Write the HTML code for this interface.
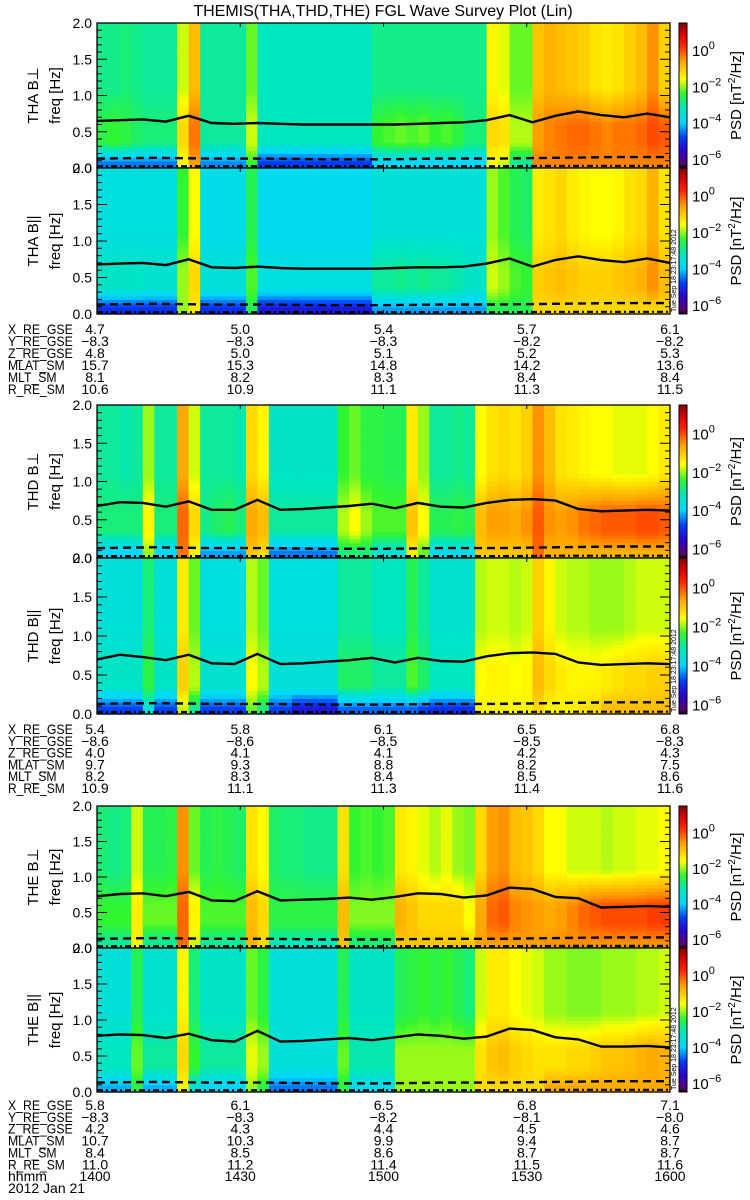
<!DOCTYPE html>
<html><head><meta charset="utf-8">
<style>
html,body{margin:0;padding:0;background:#fff;}
svg{display:block;font-family:"Liberation Sans",sans-serif;}
.t{font-size:14px;fill:#000;}
.ann{font-size:14px;fill:#000;}
</style></head>
<body>
<svg id="root" width="750" height="1200" viewBox="0 0 750 1200">
<text x="383" y="16" text-anchor="middle" style="font-size:16px">THEMIS(THA,THD,THE) FGL Wave Survey Plot (Lin)</text>
</svg>
<script>
// ---- data: log10 PSD per time bin (50 bins) for three frequency bands ----
const tha_perp_hi=[-2.9,-2.9,-2.8,-2.9,-3.0,-3.0,-3.0,-1.8,-0.9,-3.0,-3.0,-3.0,-3.0,-2.2,-3.2,-3.2,-3.2,-3.2,-3.2,-3.2,-3.2,-3.2,-3.2,-3.2,-2.9,-2.9,-2.9,-2.9,-2.9,-2.9,-2.9,-2.9,-2.9,-2.9,-1.5,-1.7,-2.2,-2.2,-1.0,-0.8,-0.9,-1.0,-1.1,-1.3,-1.4,-1.3,-1.1,-0.9,-0.5,-1.1];
const tha_perp_mid=[-2.5,-2.4,-2.5,-2.7,-2.8,-2.8,-2.8,-1.2,-0.3,-3.0,-3.0,-3.0,-3.0,-1.8,-3.2,-3.2,-3.2,-3.2,-3.2,-3.2,-3.2,-3.2,-3.2,-3.2,-2.4,-2.3,-2.2,-2.3,-2.2,-2.4,-2.3,-2.5,-2.8,-2.8,-1.2,-1.3,-1.9,-1.9,-0.6,-0.4,-0.3,-0.2,-0.2,-0.3,-0.4,-0.3,-0.3,-0.2,0.0,-0.1];
const tha_perp_lo=[-4.5,-4.5,-4.5,-4.5,-4.5,-4.5,-4.5,-1.6,-0.6,-4.4,-4.4,-4.4,-4.4,-2.4,-4.9,-4.9,-4.9,-4.9,-4.9,-4.9,-4.9,-4.9,-4.9,-4.9,-4.0,-4.0,-4.0,-4.0,-4.0,-4.0,-4.0,-4.0,-4.0,-4.0,-1.6,-1.8,-3.0,-3.0,-0.4,-0.4,-0.4,-0.4,-0.4,-0.4,-0.4,-0.4,-0.4,-0.4,-0.4,-0.4];
const tha_par_hi=[-3.6,-3.6,-3.6,-3.6,-3.6,-3.6,-3.6,-2.4,-1.6,-3.7,-3.7,-3.7,-3.7,-2.6,-3.8,-3.8,-3.8,-3.8,-3.8,-3.8,-3.8,-3.8,-3.8,-3.8,-3.5,-3.5,-3.5,-3.5,-3.5,-3.5,-3.5,-3.5,-3.5,-3.5,-2.0,-2.3,-2.6,-2.7,-1.4,-1.3,-1.2,-1.4,-1.5,-1.6,-1.6,-1.5,-1.3,-1.2,-0.8,-1.3];
const tha_par_mid=[-3.3,-3.3,-3.3,-3.3,-3.4,-3.4,-3.4,-2.0,-1.2,-3.5,-3.5,-3.5,-3.5,-2.3,-3.6,-3.6,-3.6,-3.6,-3.6,-3.6,-3.6,-3.6,-3.6,-3.6,-3.0,-3.0,-2.9,-3.0,-2.9,-3.0,-3.0,-3.1,-3.3,-3.3,-1.8,-2.0,-2.3,-2.4,-1.1,-1.0,-0.9,-1.0,-1.1,-1.1,-1.1,-1.0,-0.9,-0.8,-0.5,-0.9];
const tha_par_lo=[-5.0,-5.0,-5.0,-5.0,-5.0,-5.0,-5.0,-2.0,-1.4,-5.0,-5.0,-5.0,-5.0,-2.6,-5.3,-5.3,-5.3,-5.3,-5.3,-5.3,-5.3,-5.3,-5.3,-5.3,-4.3,-4.3,-4.3,-4.3,-4.3,-4.3,-4.3,-4.3,-4.3,-4.3,-2.6,-2.6,-2.6,-2.6,-1.2,-1.2,-1.2,-1.2,-1.2,-1.2,-1.2,-1.2,-1.2,-1.2,-1.2,-1.2];
const thd_perp_hi=[-3.0,-3.0,-3.1,-3.0,-2.0,-3.0,-3.0,-0.7,-1.8,-3.0,-3.0,-3.0,-3.1,-1.2,-1.5,-3.3,-3.3,-3.3,-3.3,-3.3,-3.3,-2.4,-2.2,-2.5,-2.5,-2.6,-2.6,-1.4,-2.0,-3.0,-3.0,-2.9,-3.0,-1.6,-1.3,-1.2,-1.3,-1.1,-0.5,-0.9,-1.3,-1.4,-1.5,-1.6,-1.6,-1.7,-1.7,-1.7,-1.6,-1.4];
const thd_perp_mid=[-2.8,-2.8,-2.8,-2.8,-1.5,-2.8,-2.8,-0.2,-1.2,-2.9,-2.7,-2.6,-2.8,-0.7,-0.9,-3.0,-3.0,-3.0,-3.0,-3.0,-3.0,-1.9,-1.6,-2.0,-2.3,-2.3,-2.3,-1.0,-1.6,-2.6,-2.6,-2.5,-2.6,-0.9,-0.6,-0.6,-0.7,-0.5,-0.1,-0.5,-0.6,-0.5,-0.3,-0.2,-0.1,-0.1,-0.1,0.0,0.0,-0.1];
const thd_perp_lo=[-4.0,-4.0,-4.0,-4.0,-2.0,-4.0,-4.0,-0.3,-1.5,-4.3,-4.3,-4.3,-4.3,-1.0,-1.2,-4.5,-4.5,-4.5,-4.5,-4.5,-4.5,-2.8,-2.8,-2.8,-3.5,-3.5,-3.5,-1.4,-2.2,-3.8,-3.8,-3.8,-3.8,-1.0,-1.0,-1.0,-1.0,-1.0,-0.2,-0.8,-0.8,-0.8,-0.8,-0.8,-0.8,-0.8,-0.8,-0.8,-0.8,-0.8];
const thd_par_hi=[-3.5,-3.5,-3.5,-3.5,-2.8,-3.5,-3.5,-1.4,-2.2,-3.6,-3.6,-3.6,-3.6,-1.9,-2.2,-3.6,-3.6,-3.6,-3.6,-3.6,-3.6,-3.0,-3.0,-3.0,-3.2,-3.2,-3.2,-2.6,-3.0,-3.4,-3.4,-3.4,-3.4,-1.9,-1.8,-1.8,-1.9,-1.8,-1.1,-1.5,-1.8,-1.9,-1.9,-2.0,-2.0,-2.0,-1.9,-1.8,-1.8,-1.8];
const thd_par_mid=[-3.3,-3.3,-3.3,-3.3,-2.5,-3.3,-3.3,-1.1,-1.9,-3.4,-3.4,-3.4,-3.4,-1.6,-1.9,-3.5,-3.5,-3.5,-3.5,-3.5,-3.5,-2.7,-2.7,-2.7,-3.0,-3.0,-3.0,-2.3,-2.7,-3.2,-3.2,-3.2,-3.2,-1.6,-1.5,-1.5,-1.6,-1.5,-0.9,-1.2,-1.4,-1.5,-1.5,-1.5,-1.4,-1.3,-1.2,-1.2,-1.1,-1.1];
const thd_par_lo=[-4.8,-4.8,-4.8,-4.8,-3.5,-4.8,-4.8,-1.8,-3.0,-4.8,-4.8,-4.8,-4.8,-2.2,-2.8,-4.8,-4.8,-5.3,-5.3,-5.3,-5.3,-4.6,-4.6,-4.6,-4.6,-4.6,-4.6,-4.6,-4.8,-5.0,-5.0,-5.0,-5.0,-1.5,-1.5,-1.5,-1.5,-1.5,-1.2,-1.5,-1.5,-1.4,-1.3,-1.2,-0.9,-0.9,-0.9,-0.9,-0.9,-0.9];
const the_perp_hi=[-2.8,-2.9,-2.8,-1.8,-2.6,-2.6,-2.5,-0.5,-2.2,-2.6,-2.5,-2.6,-2.7,-1.3,-1.6,-2.7,-2.8,-2.8,-2.9,-2.9,-2.9,-1.3,-2.4,-2.3,-2.4,-2.3,-1.4,-1.5,-1.7,-1.9,-1.7,-2.0,-2.1,-1.2,-0.6,-0.5,-0.9,-1.0,-1.2,-1.6,-1.6,-1.8,-1.8,-1.8,-1.9,-1.8,-1.8,-1.7,-1.7,-1.6];
const the_perp_mid=[-2.4,-2.4,-2.4,-1.4,-2.2,-2.2,-2.2,-0.2,-1.5,-2.3,-2.3,-2.3,-2.3,-0.9,-1.2,-2.5,-2.5,-2.5,-2.5,-2.5,-2.5,-0.9,-2.1,-2.1,-2.1,-2.1,-0.8,-1.0,-1.2,-1.2,-1.2,-1.2,-1.6,-0.7,-0.2,-0.1,-0.4,-0.5,-0.6,-0.7,-0.6,-0.4,-0.2,-0.1,0.0,0.0,0.0,0.0,0.1,0.1];
const the_perp_lo=[-3.0,-3.0,-3.0,-1.5,-3.0,-3.0,-3.0,-0.2,-1.8,-3.0,-3.0,-3.0,-3.0,-0.8,-1.2,-3.2,-3.2,-3.2,-3.2,-3.2,-3.2,-1.0,-2.8,-2.8,-2.8,-2.8,-1.0,-1.0,-1.0,-1.0,-1.0,-1.0,-1.0,-0.6,-0.6,-0.6,-0.6,-0.6,-0.6,-0.5,-0.5,-0.5,-0.5,-0.5,-0.5,-0.5,-0.5,-0.5,-0.5,-0.5];
const the_par_hi=[-3.5,-3.5,-3.5,-2.6,-3.4,-3.4,-3.4,-1.5,-2.8,-3.3,-3.3,-3.3,-3.3,-2.2,-2.5,-3.5,-3.5,-3.5,-3.5,-3.5,-3.5,-2.6,-3.3,-3.3,-3.3,-3.3,-2.6,-2.5,-2.4,-2.5,-2.4,-2.6,-2.8,-1.8,-1.4,-1.4,-1.6,-1.7,-1.8,-2.0,-2.0,-2.1,-2.1,-2.1,-2.0,-2.0,-2.0,-1.9,-1.9,-1.8];
const the_par_mid=[-3.2,-3.2,-3.2,-2.2,-3.0,-3.0,-3.0,-1.2,-2.4,-3.0,-3.0,-3.0,-3.0,-1.7,-2.0,-3.5,-3.5,-3.5,-3.5,-3.5,-3.5,-2.2,-3.1,-3.1,-3.1,-3.1,-2.0,-2.0,-2.0,-2.0,-2.0,-2.0,-2.0,-1.3,-1.0,-0.9,-1.1,-1.2,-1.3,-1.3,-1.3,-1.2,-1.2,-1.1,-1.0,-1.0,-0.9,-0.8,-0.7,-0.8];
const the_par_lo=[-4.2,-4.2,-4.2,-2.5,-4.2,-4.2,-4.2,-1.5,-3.5,-4.0,-4.0,-4.0,-4.0,-2.0,-2.5,-4.5,-4.5,-4.5,-4.5,-4.5,-4.5,-2.5,-3.8,-3.8,-3.8,-3.8,-2.0,-2.0,-2.0,-2.0,-2.0,-2.0,-2.0,-1.2,-1.2,-1.2,-1.2,-1.2,-1.2,-0.7,-0.7,-0.7,-0.7,-0.7,-0.7,-0.7,-0.7,-0.7,-0.7,-0.7];
// solid line (Hz) at 26 evenly spaced times
const tha_perp_line=[0.65,0.66,0.67,0.64,0.72,0.62,0.61,0.62,0.61,0.60,0.60,0.60,0.60,0.60,0.61,0.62,0.63,0.66,0.73,0.63,0.72,0.78,0.73,0.70,0.75,0.70];
const tha_par_line=[0.68,0.69,0.70,0.67,0.75,0.64,0.63,0.65,0.63,0.62,0.62,0.62,0.62,0.63,0.64,0.64,0.65,0.69,0.76,0.65,0.74,0.79,0.74,0.71,0.76,0.70];
const thd_perp_line=[0.68,0.73,0.72,0.67,0.74,0.63,0.63,0.76,0.63,0.64,0.66,0.68,0.71,0.65,0.72,0.67,0.66,0.72,0.76,0.77,0.75,0.64,0.61,0.62,0.63,0.62];
const thd_par_line=[0.70,0.76,0.73,0.69,0.76,0.65,0.64,0.77,0.64,0.65,0.67,0.69,0.72,0.66,0.72,0.68,0.67,0.74,0.78,0.79,0.77,0.66,0.63,0.64,0.65,0.64];
const the_perp_line=[0.73,0.76,0.77,0.73,0.79,0.67,0.66,0.80,0.67,0.68,0.69,0.71,0.68,0.72,0.77,0.76,0.71,0.74,0.85,0.83,0.72,0.70,0.57,0.58,0.59,0.58];
const the_par_line=[0.78,0.80,0.79,0.75,0.81,0.72,0.70,0.85,0.70,0.71,0.73,0.75,0.72,0.76,0.80,0.78,0.74,0.77,0.88,0.86,0.76,0.73,0.63,0.63,0.64,0.62];
// dashed and dash-dot lines (Hz) at 11 evenly spaced times
const dashed_line=[0.13,0.14,0.13,0.13,0.12,0.12,0.13,0.13,0.14,0.15,0.15];
const dashdot_line=[0.025,0.025,0.025,0.025,0.025,0.025,0.025,0.025,0.03,0.03,0.03];
// axis labels
const freqTicks=[0.0,0.5,1.0,1.5,2.0];
const cbTicks=[0,-2,-4,-6];
const timeLabels=['1400','1430','1500','1530','1600'];
const annRows=['X_RE_GSE','Y_RE_GSE','Z_RE_GSE','MLAT_SM','MLT_SM','R_RE_SM'];
const annTHA=[['4.7','5.0','5.4','5.7','6.1'],['−8.3','−8.3','−8.3','−8.2','−8.2'],['4.8','5.0','5.1','5.2','5.3'],['15.7','15.3','14.8','14.2','13.6'],['8.1','8.2','8.3','8.4','8.4'],['10.6','10.9','11.1','11.3','11.5']];
const annTHD=[['5.4','5.8','6.1','6.5','6.8'],['−8.6','−8.6','−8.5','−8.5','−8.3'],['4.0','4.1','4.1','4.2','4.3'],['9.7','9.3','8.8','8.2','7.5'],['8.2','8.3','8.4','8.5','8.6'],['10.9','11.1','11.3','11.4','11.6']];
const annTHE=[['5.8','6.1','6.5','6.8','7.1'],['−8.3','−8.3','−8.2','−8.1','−8.0'],['4.2','4.3','4.4','4.5','4.6'],['10.7','10.3','9.9','9.4','8.7'],['8.4','8.5','8.6','8.7','8.7'],['11.0','11.2','11.4','11.5','11.6']];

const NS='http://www.w3.org/2000/svg';
const root=document.getElementById('root');
function mk(tag,attrs,parent){const e=document.createElementNS(NS,tag);for(const k in attrs)e.setAttribute(k,attrs[k]);(parent||root).appendChild(e);return e;}
const X0=97,X1=670,CB0=679,CB1=687;
const cmap=[[-7,[0,0,0]],[-6.3,[90,0,110]],[-5.6,[48,0,200]],[-4.8,[0,64,255]],[-4.0,[0,215,255]],[-3.2,[0,230,190]],[-2.4,[50,245,50]],[-1.6,[255,255,0]],[-0.6,[255,160,0]],[0.3,[255,32,0]],[1.0,[208,0,0]],[1.5,[128,0,0]]];
function color(L){
  if(L<=cmap[0][0])return 'rgb(0,0,0)';
  for(let i=1;i<cmap.length;i++){if(L<=cmap[i][0]){const a=cmap[i-1],b=cmap[i];const t=(L-a[0])/(b[0]-a[0]);const c=a[1].map((v,k)=>Math.round(v+(b[1][k]-v)*t));return 'rgb('+c.join(',')+')';}}
  return 'rgb(128,0,0)';
}
function xOfFrac(f){return X0+f*(X1-X0);}
const panels=[
 {top:23,bot:168,name:'THA B⊥',hi:tha_perp_hi,mid:tha_perp_mid,lo:tha_perp_lo,line:tha_perp_line,key:'tha-perp',stamp:false},
 {top:168,bot:314,name:'THA B||',hi:tha_par_hi,mid:tha_par_mid,lo:tha_par_lo,line:tha_par_line,key:'tha-par',stamp:true},
 {top:405,bot:558,name:'THD B⊥',hi:thd_perp_hi,mid:thd_perp_mid,lo:thd_perp_lo,line:thd_perp_line,key:'thd-perp',stamp:false},
 {top:558,bot:714,name:'THD B||',hi:thd_par_hi,mid:thd_par_mid,lo:thd_par_lo,line:thd_par_line,key:'thd-par',stamp:true},
 {top:806,bot:948,name:'THE B⊥',hi:the_perp_hi,mid:the_perp_mid,lo:the_perp_lo,line:the_perp_line,key:'the-perp',stamp:false},
 {top:948,bot:1092,name:'THE B||',hi:the_par_hi,mid:the_par_mid,lo:the_par_lo,line:the_par_line,key:'the-par',stamp:true}
];
const defs=mk('defs',{});
const grad=mk('linearGradient',{id:'cbg',x1:0,y1:0,x2:0,y2:1},defs);
for(let i=cmap.length-1;i>=0;i--){const L=cmap[i][0];const off=Math.max(0,Math.min(1,(1.5-L)/8));mk('stop',{offset:off,'stop-color':color(L)},grad);}
function profile(p,i,f){
  const h=p.hi[i],m=p.mid[i],l=p.lo[i];
  if(f<0.08)return l;
  if(f<0.35)return l+(m-l)*(f-0.08)/0.27;
  if(f<0.6)return m;
  if(f<1.1)return m+(h-m)*(f-0.6)/0.5;
  return h;
}
panels.forEach(p=>{
  const H=p.bot-p.top;
  const yOf=f=>p.bot-f/2*H;
  const g=mk('g',{});
  
  
  const nb=p.hi.length,nr=40;
  for(let i=0;i<nb;i++){
    const xa=xOfFrac(i/nb),xb=xOfFrac((i+1)/nb);
    for(let r=0;r<nr;r++){
      const f=(r+0.5)/nr*2;
      const ya=yOf((r+1)/nr*2),yb=yOf(r/nr*2);
      const rc=mk('rect',{x:xa.toFixed(2),y:ya.toFixed(2),width:(xb-xa+0.6).toFixed(2),height:(yb-ya+0.6).toFixed(2),fill:color(profile(p,i,f))},g);
      
      
    }
  }
  const mkLine=(arr,dash,w,name)=>{
    const pts=arr.map((v,k)=>xOfFrac(k/(arr.length-1)).toFixed(1)+','+yOf(v).toFixed(1)).join(' ');
    const pl=mk('polyline',{points:pts,fill:'none',stroke:'#000','stroke-width':w,'stroke-dasharray':dash});
    
    
  };
  mkLine(p.line,'none',2.4,p.key+'-solid-line');
  mkLine(dashed_line,'8,5',2.4,p.key+'-dashed-line');
  mkLine(dashdot_line,'6,3,2,3',2.2,p.key+'-dashdot-line');
  const fr=mk('rect',{x:X0,y:p.top,width:X1-X0,height:H,fill:'none',stroke:'#000','stroke-width':1.3});
  
  
  for(let k=0;k<=20;k++){
    const f=k*0.1,y=yOf(f),len=(k%5===0)?10:5;
    mk('line',{x1:X0,y1:y,x2:X0+len,y2:y,stroke:'#000','stroke-width':1});
    mk('line',{x1:X1,y1:y,x2:X1-len,y2:y,stroke:'#000','stroke-width':1});
  }
  for(let k=1;k<4;k++){const x=xOfFrac(k/4);mk('line',{x1:x,y1:p.top,x2:x,y2:p.top+4,stroke:'#000'});mk('line',{x1:x,y1:p.bot,x2:x,y2:p.bot-4,stroke:'#000'});}
  freqTicks.forEach(f=>{
    const t=mk('text',{x:92,y:yOf(f)+5,'text-anchor':'end',class:'t'});
    t.textContent=f.toFixed(1);
    
    
  });
  const cy=(p.top+p.bot)/2;
  const lab=mk('text',{x:0,y:0,transform:'translate(38,'+cy+') rotate(-90)','text-anchor':'middle',class:'t',style:'font-size:15px'});
  lab.textContent=p.name;
  
  
  const fl=mk('text',{x:0,y:0,transform:'translate(60,'+cy+') rotate(-90)','text-anchor':'middle',class:'t',style:'font-size:15px'});
  fl.textContent='freq [Hz]';
  
  
  const cb=mk('rect',{x:CB0,y:p.top,width:CB1-CB0,height:H,fill:'url(#cbg)',stroke:'#000','stroke-width':1});
  
  
  cbTicks.forEach(L=>{
    const y=p.top+(1.5-L)/8*H;
    const t=mk('text',{x:692,y:y+6,class:'t',style:'font-size:15px'});
    t.innerHTML='10<tspan dy="-7" style="font-size:11px">'+(L===0?'0':'−'+(-L))+'</tspan>';
    
    
  });
  const pl=mk('text',{x:0,y:0,transform:'translate(741,'+cy+') rotate(-90)','text-anchor':'middle',class:'t',style:'font-size:15px'});
  pl.innerHTML='PSD [nT<tspan dy="-6" style="font-size:10px">2</tspan><tspan dy="6">/Hz]</tspan>';
  
  
  if(p.stamp){
    const st=mk('text',{x:0,y:0,transform:'translate(676,'+(p.bot-2)+') rotate(-90)',style:'font-size:7px;fill:#000'});
    st.textContent='Tue Sep 18 23:17:48 2012';
    
    
  }
});
function block(y0,dy,vals,withTime,key){
  annRows.forEach((r,k)=>{
    const y=y0+dy*k+5;
    const t=mk('text',{x:8,y:y,class:'ann',textLength:(r.length*8.1).toFixed(1),lengthAdjust:'spacingAndGlyphs'});
    t.textContent=r;
    
    
    vals[k].forEach((v,j)=>{
      const vt=mk('text',{x:xOfFrac(j/4)+(j===0?-2:0),y:y,'text-anchor':'middle',class:'ann'});
      vt.textContent=v;
      
      
    });
  });
  if(withTime){
    const y=y0+dy*6+5;
    const t=mk('text',{x:8,y:y,class:'ann'});t.textContent='hhmm';
    
    
    timeLabels.forEach((v,j)=>{
      const vt=mk('text',{x:xOfFrac(j/4)+(j===0?-2:0),y:y,'text-anchor':'middle',class:'ann'});vt.textContent=v;
      
      
    });
    const d=mk('text',{x:8,y:y0+dy*7+5,class:'ann'});d.textContent='2012 Jan 21';
    
    
  }
}
block(329,12,annTHA,false,'tha');
block(729,11.8,annTHD,false,'thd');
block(1105,11.85,annTHE,true,'the');
</script>
</body></html>
